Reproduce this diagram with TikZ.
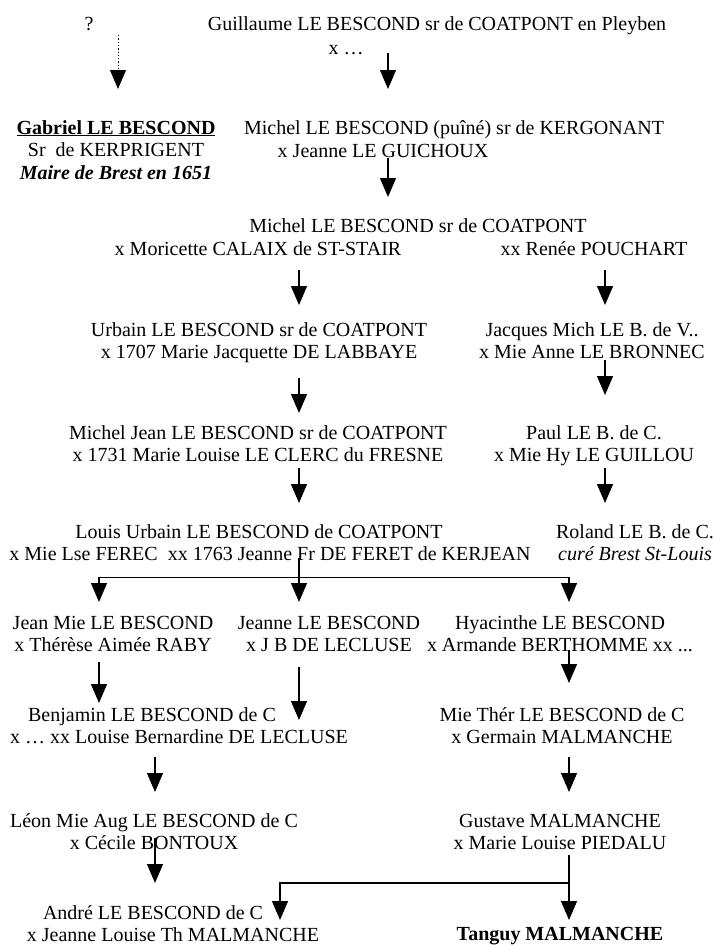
\documentclass[tikz,border=0pt]{standalone}
\usepackage{fontspec}
\setmainfont{Liberation Serif}
\usetikzlibrary{arrows.meta}

\begin{document}
\begin{tikzpicture}[
    x=1pt, y=-1pt,
    person/.style={anchor=base, inner sep=0pt, align=center,
                   font=\fontsize{20}{22.5}\selectfont},
    arrow/.style={-{Triangle[length=19pt, width=16pt]}, line width=1.3pt},
    dotarrow/.style={arrow, dotted, line width=0.9pt}
  ]
    \useasboundingbox (0,0) rectangle (714,945);

    % columns of the arrows
    \coordinate (colq) at (118,0);
    \coordinate (colm) at (388,0);
    \coordinate (coll) at (299,0);
    \coordinate (colr) at (605,0);
    \coordinate (cola) at (99,0);
    \coordinate (colh) at (569,0);
    \coordinate (colb) at (155,0);
    \coordinate (cold) at (280,0);

    \node[person] (q)    at (89,30)  {?};
    \node[person] (guil) at (437,30) {Guillaume LE BESCOND sr de COATPONT en Pleyben};
    \node[person] (guix) at (346,54) {x …};

    \node[person] (gab)  at (116,179)
          {\underline{\textbf{Gabriel LE BESCOND}}\\Sr~ de KERPRIGENT\\\textbf{\textit{Maire de Brest en 1651}}};
    \node[person] (mpu)  at (454,134) {Michel LE BESCOND (puîné) sr de KERGONANT};
    \node[person] (mpux) at (383,157) {x Jeanne LE GUICHOUX};

    \node[person] (mco)  at (418,232) {Michel LE BESCOND sr de COATPONT};
    \node[person] (mcoa) at (258,255) {x Moricette CALAIX de ST-STAIR};
    \node[person] (mcob) at (594,255) {xx Renée POUCHART};

    \node[person] (urb)  at (259,358.5) {Urbain LE BESCOND sr de COATPONT\\x 1707 Marie Jacquette DE LABBAYE};
    \node[person] (jac)  at (592,358.5) {Jacques Mich LE B. de V..\\x Mie Anne LE BRONNEC};

    \node[person] (mje)  at (258,461.5) {Michel Jean LE BESCOND sr de COATPONT\\x 1731 Marie Louise LE CLERC du FRESNE};
    \node[person] (pau)  at (594,461.5) {Paul LE B. de C.\\x Mie Hy LE GUILLOU};

    \node[person] (lou)  at (259,538) {Louis Urbain LE BESCOND de COATPONT};
    \node[person] (loux) at (270,560) {x Mie Lse FEREC~ xx 1763 Jeanne Fr DE FERET de KERJEAN};
    \node[person] (rol)  at (635,560.5) {Roland LE B. de C.\\\textit{curé Brest St-Louis}};

    \node[person] (jea)  at (113,651.5) {Jean Mie LE BESCOND\\x Thérèse Aimée RABY};
    \node[person] (jne)  at (329,651.5) {Jeanne LE BESCOND\\x J B DE LECLUSE};
    \node[person] (hya)  at (560,651.5) {Hyacinthe LE BESCOND\\x Armande BERTHOMME xx ...};

    \node[person] (ben)  at (152,721) {Benjamin LE BESCOND de C};
    \node[person] (benx) at (179,743) {x … xx Louise Bernardine DE LECLUSE};
    \node[person] (mth)  at (562,743.5) {Mie Thér LE BESCOND de C\\x Germain MALMANCHE};

    \node[person] (leo)  at (154,849.5) {Léon Mie Aug LE BESCOND de C\\x Cécile BONTOUX};
    \node[person] (gus)  at (560,849.5) {Gustave MALMANCHE\\x Marie Louise PIEDALU};

    \node[person] (and)  at (153,919) {André LE BESCOND de C};
    \node[person] (andx) at (173,941) {x Jeanne Louise Th MALMANCHE};
    \node[person] (tan)  at (560,940) {\textbf{Tanguy MALMANCHE}};

    \draw[dotarrow] ([yshift=-5pt]q.base -| colq) -- ([yshift=90pt]gab.base -| colq);
    \draw[arrow] ([yshift=1pt]guix.base -| colm) -- ([yshift=45pt]mpu.base -| colm);
    \draw[arrow] ([yshift=-1pt]mpux.base -| colm) -- ([yshift=35pt]mco.base -| colm);

    \draw[arrow] ([yshift=-15pt]mcoa.base -| coll) -- ([yshift=53.5pt]urb.base -| coll);
    \draw[arrow] ([yshift=-15pt]mcob.base -| colr) -- ([yshift=53.5pt]jac.base -| colr);

    \draw[arrow] ([yshift=-19.5pt]urb.base -| coll) -- ([yshift=48.5pt]mje.base -| coll);
    \draw[arrow] ([yshift=-1.5pt]jac.base -| colr) -- ([yshift=66.5pt]pau.base -| colr);

    \draw[arrow] ([yshift=-6.5pt]mje.base -| coll) -- ([yshift=35pt]lou.base -| coll);
    \draw[arrow] ([yshift=-6.5pt]pau.base -| colr) -- ([yshift=57.5pt]rol.base -| colr);

    % children of Louis Urbain
    \draw[arrow] ([yshift=2pt]loux.base -| coll) -- coordinate[pos=0.45] (fork)
                 ([yshift=49.5pt]jne.base -| coll);
    \draw[arrow] (fork) -| ([yshift=49.5pt]jea.base -| cola);
    \draw[arrow] (fork) -| ([yshift=49.5pt]hya.base -| colh);

    \draw[arrow] ([yshift=-10.5pt]jea.base -| cola) -- ([yshift=18pt]ben.base -| cola);
    \draw[arrow] ([yshift=-15.5pt]jne.base -| coll) -- ([yshift=1pt]ben.base -| coll);
    \draw[arrow] ([yshift=1.5pt]hya.base -| colh) -- ([yshift=60.5pt]mth.base -| colh);

    \draw[arrow] ([yshift=-14pt]benx.base -| colb) -- ([yshift=57.5pt]leo.base -| colb);
    \draw[arrow] ([yshift=-13.5pt]mth.base -| colh) -- ([yshift=57.5pt]gus.base -| colh);

    \draw[arrow] ([yshift=11.5pt]leo.base -| colb) -- ([yshift=36pt]and.base -| colb);
    \draw[arrow] ([yshift=-5.5pt]gus.base -| colh) -- coordinate[pos=0.43] (join)
                 ([yshift=20pt]tan.base -| colh);
    \draw[arrow] (join) -| ([yshift=-1pt]and.base -| cold);
\end{tikzpicture}
\end{document}
